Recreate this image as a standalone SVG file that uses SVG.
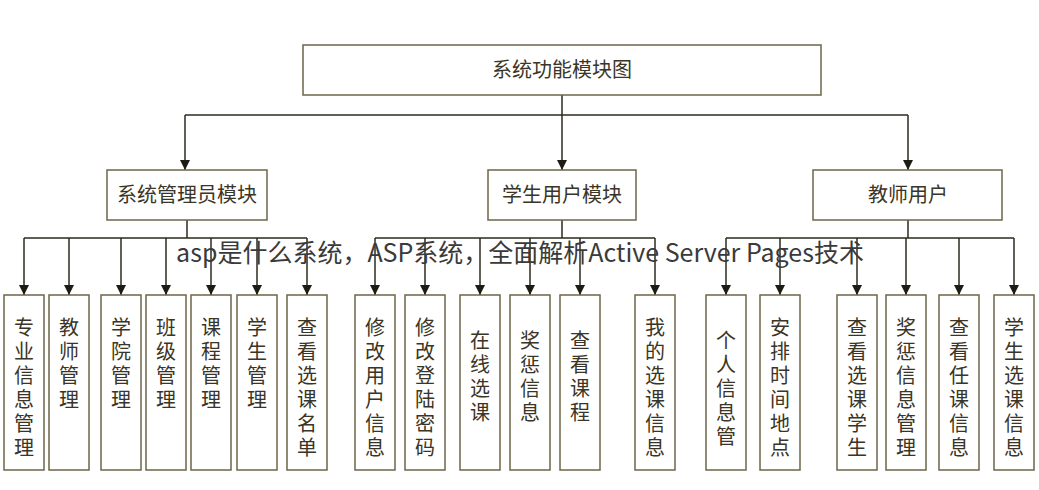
<svg xmlns="http://www.w3.org/2000/svg" width="1039" height="490" viewBox="0 0 1039 490">
<style>
.b{fill:#fff;stroke:#6e6648;stroke-width:1.5}
.t{font-family:"Noto Sans CJK SC","Liberation Serif",serif;font-size:20px;fill:#3a3526;text-anchor:middle}
.v{font-family:"Noto Sans CJK SC","Liberation Serif",serif;font-size:20px;fill:#3a3526;text-anchor:middle}
.l{stroke:#2e2a1e;stroke-width:1.5;fill:none}
.o{font-family:"Noto Sans CJK SC","Noto Sans",sans-serif;font-size:25px;fill:#3a3a3a;text-anchor:middle}
</style>
<defs><marker id="a" markerWidth="10" markerHeight="10" refX="10" refY="5" orient="auto" viewBox="0 0 10 10" markerUnits="userSpaceOnUse"><path d="M0,0 L10,5 L0,10z" fill="#1e1b12"/></marker></defs>
<g id="connectors" class="l">
<path d="M562,95V170" marker-end="url(#a)"/>
<path d="M185,115H908"/>
<path d="M185,115V170" marker-end="url(#a)"/>
<path d="M908,115V170" marker-end="url(#a)"/>
<path d="M187,220V238M24,238H307M562,220V238M375,238H655M908,220V238M726,238H1014"/>
<path d="M24,238V295" marker-end="url(#a)"/><path d="M69,238V295" marker-end="url(#a)"/><path d="M121,238V295" marker-end="url(#a)"/><path d="M166,238V295" marker-end="url(#a)"/><path d="M211,238V295" marker-end="url(#a)"/><path d="M257,238V295" marker-end="url(#a)"/><path d="M307,238V295" marker-end="url(#a)"/><path d="M375,238V295" marker-end="url(#a)"/><path d="M425,238V295" marker-end="url(#a)"/><path d="M480,238V295" marker-end="url(#a)"/><path d="M530,238V295" marker-end="url(#a)"/><path d="M580,238V295" marker-end="url(#a)"/><path d="M655,238V295" marker-end="url(#a)"/><path d="M726,238V295" marker-end="url(#a)"/><path d="M780,238V295" marker-end="url(#a)"/><path d="M857,238V295" marker-end="url(#a)"/><path d="M906,238V295" marker-end="url(#a)"/><path d="M959,238V295" marker-end="url(#a)"/><path d="M1014,238V295" marker-end="url(#a)"/>
</g>
<g id="root"><rect class="b" x="303" y="45" width="518" height="50"/><text class="t" x="562" y="77">系统功能模块图</text></g>
<g id="admin"><rect class="b" x="107" y="170" width="160" height="50"/><text class="t" x="187" y="202">系统管理员模块</text></g>
<g id="student"><rect class="b" x="488" y="170" width="148" height="50"/><text class="t" x="562" y="202">学生用户模块</text></g>
<g id="teacher"><rect class="b" x="813" y="170" width="189" height="50"/><text class="t" x="908" y="202">教师用户</text></g>
<g id="leaves">
<g id="n1"><rect class="b" x="4" y="295" width="40" height="175"/><text class="v" x="24"><tspan x="24" y="335">专</tspan><tspan x="24" y="359">业</tspan><tspan x="24" y="383">信</tspan><tspan x="24" y="407">息</tspan><tspan x="24" y="431">管</tspan><tspan x="24" y="455">理</tspan></text></g>
<g id="n2"><rect class="b" x="49" y="295" width="40" height="175"/><text class="v"><tspan x="69" y="335">教</tspan><tspan x="69" y="359">师</tspan><tspan x="69" y="383">管</tspan><tspan x="69" y="407">理</tspan></text></g>
<g id="n3"><rect class="b" x="101" y="295" width="40" height="175"/><text class="v"><tspan x="121" y="335">学</tspan><tspan x="121" y="359">院</tspan><tspan x="121" y="383">管</tspan><tspan x="121" y="407">理</tspan></text></g>
<g id="n4"><rect class="b" x="146" y="295" width="40" height="175"/><text class="v"><tspan x="166" y="335">班</tspan><tspan x="166" y="359">级</tspan><tspan x="166" y="383">管</tspan><tspan x="166" y="407">理</tspan></text></g>
<g id="n5"><rect class="b" x="191" y="295" width="40" height="175"/><text class="v"><tspan x="211" y="335">课</tspan><tspan x="211" y="359">程</tspan><tspan x="211" y="383">管</tspan><tspan x="211" y="407">理</tspan></text></g>
<g id="n6"><rect class="b" x="237" y="295" width="40" height="175"/><text class="v"><tspan x="257" y="335">学</tspan><tspan x="257" y="359">生</tspan><tspan x="257" y="383">管</tspan><tspan x="257" y="407">理</tspan></text></g>
<g id="n7"><rect class="b" x="287" y="295" width="40" height="175"/><text class="v"><tspan x="307" y="335">查</tspan><tspan x="307" y="359">看</tspan><tspan x="307" y="383">选</tspan><tspan x="307" y="407">课</tspan><tspan x="307" y="431">名</tspan><tspan x="307" y="455">单</tspan></text></g>
<g id="n8"><rect class="b" x="355" y="295" width="40" height="175"/><text class="v"><tspan x="375" y="335">修</tspan><tspan x="375" y="359">改</tspan><tspan x="375" y="383">用</tspan><tspan x="375" y="407">户</tspan><tspan x="375" y="431">信</tspan><tspan x="375" y="455">息</tspan></text></g>
<g id="n9"><rect class="b" x="405" y="295" width="40" height="175"/><text class="v"><tspan x="425" y="335">修</tspan><tspan x="425" y="359">改</tspan><tspan x="425" y="383">登</tspan><tspan x="425" y="407">陆</tspan><tspan x="425" y="431">密</tspan><tspan x="425" y="455">码</tspan></text></g>
<g id="n10"><rect class="b" x="460" y="295" width="40" height="175"/><text class="v"><tspan x="480" y="348">在</tspan><tspan x="480" y="372">线</tspan><tspan x="480" y="396">选</tspan><tspan x="480" y="420">课</tspan></text></g>
<g id="n11"><rect class="b" x="510" y="295" width="40" height="175"/><text class="v"><tspan x="530" y="348">奖</tspan><tspan x="530" y="372">惩</tspan><tspan x="530" y="396">信</tspan><tspan x="530" y="420">息</tspan></text></g>
<g id="n12"><rect class="b" x="560" y="295" width="40" height="175"/><text class="v"><tspan x="580" y="348">查</tspan><tspan x="580" y="372">看</tspan><tspan x="580" y="396">课</tspan><tspan x="580" y="420">程</tspan></text></g>
<g id="n13"><rect class="b" x="635" y="295" width="40" height="175"/><text class="v"><tspan x="655" y="335">我</tspan><tspan x="655" y="359">的</tspan><tspan x="655" y="383">选</tspan><tspan x="655" y="407">课</tspan><tspan x="655" y="431">信</tspan><tspan x="655" y="455">息</tspan></text></g>
<g id="n14"><rect class="b" x="706" y="295" width="40" height="175"/><text class="v"><tspan x="726" y="348">个</tspan><tspan x="726" y="372">人</tspan><tspan x="726" y="396">信</tspan><tspan x="726" y="420">息</tspan><tspan x="726" y="444">管</tspan></text></g>
<g id="n15"><rect class="b" x="760" y="295" width="40" height="175"/><text class="v"><tspan x="780" y="335">安</tspan><tspan x="780" y="359">排</tspan><tspan x="780" y="383">时</tspan><tspan x="780" y="407">间</tspan><tspan x="780" y="431">地</tspan><tspan x="780" y="455">点</tspan></text></g>
<g id="n16"><rect class="b" x="837" y="295" width="40" height="175"/><text class="v"><tspan x="857" y="335">查</tspan><tspan x="857" y="359">看</tspan><tspan x="857" y="383">选</tspan><tspan x="857" y="407">课</tspan><tspan x="857" y="431">学</tspan><tspan x="857" y="455">生</tspan></text></g>
<g id="n17"><rect class="b" x="886" y="295" width="40" height="175"/><text class="v"><tspan x="906" y="335">奖</tspan><tspan x="906" y="359">惩</tspan><tspan x="906" y="383">信</tspan><tspan x="906" y="407">息</tspan><tspan x="906" y="431">管</tspan><tspan x="906" y="455">理</tspan></text></g>
<g id="n18"><rect class="b" x="939" y="295" width="40" height="175"/><text class="v"><tspan x="959" y="335">查</tspan><tspan x="959" y="359">看</tspan><tspan x="959" y="383">任</tspan><tspan x="959" y="407">课</tspan><tspan x="959" y="431">信</tspan><tspan x="959" y="455">息</tspan></text></g>
<g id="n19"><rect class="b" x="994" y="295" width="40" height="175"/><text class="v"><tspan x="1014" y="335">学</tspan><tspan x="1014" y="359">生</tspan><tspan x="1014" y="383">选</tspan><tspan x="1014" y="407">课</tspan><tspan x="1014" y="431">信</tspan><tspan x="1014" y="455">息</tspan></text></g>
</g>
<text class="o" x="520" y="262">asp是什么系统，ASP系统，全面解析Active Server Pages技术</text>
</svg>
